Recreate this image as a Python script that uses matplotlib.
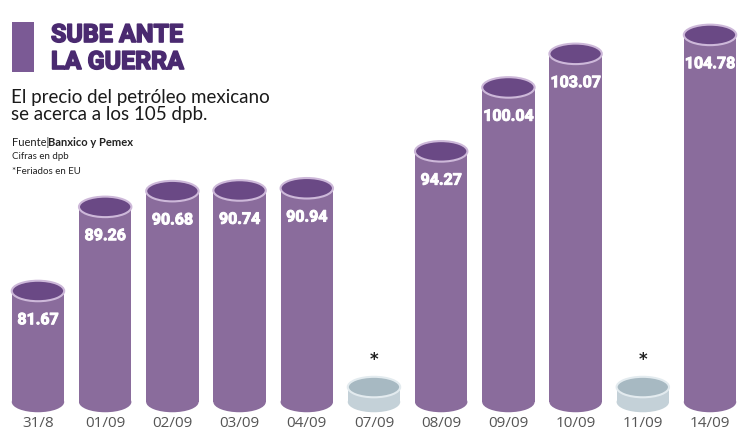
import matplotlib
matplotlib.use("Agg")
import matplotlib.pyplot as plt
import matplotlib.patheffects as pe
from matplotlib.patches import Ellipse, Rectangle

categories = ["31/8", "01/09", "02/09", "03/09", "04/09", "07/09", "08/09", "09/09", "10/09", "11/09", "14/09"]
values = [81.67, 89.26, 90.68, 90.74, 90.94, None, 94.27, 100.04, 103.07, None, 104.78]
value_labels = ["81.67", "89.26", "90.68", "90.74", "90.94", "", "94.27", "100.04", "103.07", "", "104.78"]

title_lines = ["SUBE ANTE", "LA GUERRA"]
subtitle = "El precio del petróleo mexicano\nse acerca a los 105 dpb."

# style constants
BASE = 71.65        # floor of cylinders (data units)
STUB = 1.35         # height of holiday stubs
BAR_W = 0.78
ELL_H = 1.85
BODY = "#8a6c9c"
TOP = "#6a4985"
RIM = "#cdb8d9"
G_BODY = "#c4d1d8"
G_TOP = "#a7b9c2"
G_RIM = "#e3ebef"

fig = plt.figure(figsize=(7.5, 4.45), dpi=100)
ax = fig.add_axes([0, 0, 1, 1])
ax.set_xlim(-0.565, 10.595)
ax.set_ylim(67.77, 107.93)
ax.axis("off")

for i, (cat, v, lab) in enumerate(zip(categories, values, value_labels)):
    if v is None:
        top, body, tcol, rim = BASE + STUB, G_BODY, G_TOP, G_RIM
    else:
        top, body, tcol, rim = v, BODY, TOP, RIM
    ax.add_patch(Ellipse((i, BASE), BAR_W, ELL_H, facecolor=body, edgecolor="none", zorder=2))
    ax.bar(i, top - BASE, bottom=BASE, width=BAR_W, color=body, edgecolor="none", zorder=2)
    ax.add_patch(Ellipse((i, top), BAR_W, ELL_H, facecolor=tcol, edgecolor=rim, linewidth=1.5, zorder=3))
    if v is None:
        ax.text(i, BASE + STUB + 2.4, "*", ha="center", va="center", fontsize=12,
                fontweight="bold", color="#222222", family="DejaVu Sans")
    else:
        ax.text(i, v - 2.6, lab, ha="center", va="center", fontsize=11.5,
                fontweight="bold", color="white", family="Roboto",
                path_effects=[pe.withStroke(linewidth=0.7, foreground="white")])
    ax.text(i, 69.67, cat, ha="center", va="center", fontsize=11,
            color="#555555", family="Open Sans")

# header block
fig.patches.append(Rectangle((12 / 750, 1 - 72 / 445), 22 / 750, 50 / 445,
                             transform=fig.transFigure, facecolor="#7b5a95", edgecolor="none"))
title_fx = [pe.withStroke(linewidth=1.2, foreground="#4a2a70")]
fig.text(51 / 750, 1 - 35 / 445, title_lines[0], fontsize=18, fontweight="bold",
         color="#4a2a70", family="Roboto", va="center", ha="left", path_effects=title_fx)
fig.text(51 / 750, 1 - 62 / 445, title_lines[1], fontsize=18, fontweight="bold",
         color="#4a2a70", family="Roboto", va="center", ha="left", path_effects=title_fx)
fig.text(11 / 750, 1 - 106 / 445, subtitle, fontsize=13.5, color="#1a1a1a",
         family="Lato", va="center", ha="left", linespacing=1.0)
fig.text(12 / 750, 1 - 142 / 445, "Fuente|", fontsize=8, color="#222222",
         family="Lato", va="center", ha="left")
fig.text(48 / 750, 1 - 142 / 445, "Banxico y Pemex", fontsize=8, fontweight="bold",
         color="#222222", family="Lato", va="center", ha="left")
fig.text(12 / 750, 1 - 157 / 445, "Cifras en dpb", fontsize=7, color="#222222",
         family="Lato", va="center", ha="left")
fig.text(12 / 750, 1 - 172 / 445, "*Feriados en EU", fontsize=7, color="#222222",
         family="Lato", va="center", ha="left")

fig.savefig("out.png", dpi=100, facecolor="white")
